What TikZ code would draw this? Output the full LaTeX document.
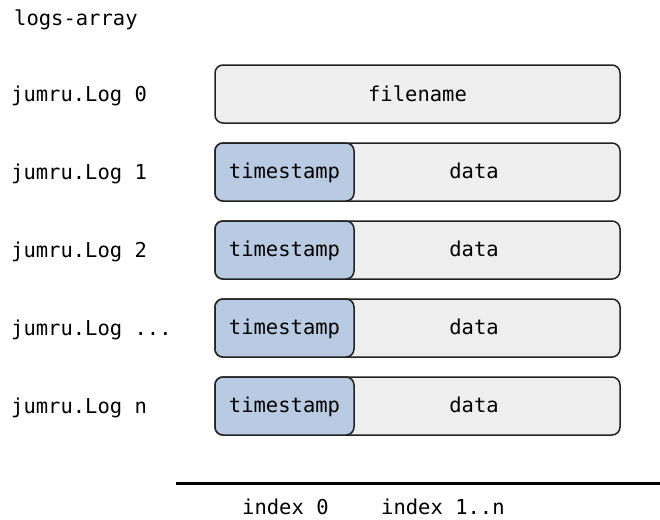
\documentclass[tikz,border=0pt]{standalone}
\usepackage{fontspec}
\setmonofont{DejaVu Sans Mono}
\definecolor{boxgray}{HTML}{EEEEEE}
\definecolor{tsblue}{HTML}{B9CBE3}
\definecolor{edge}{HTML}{222222}
\newcommand\mydotslabel{...}
\begin{document}
\begin{tikzpicture}[x=1pt,y=-1pt,
  txt/.style={font=\ttfamily\fontsize{20.5}{23}\selectfont, inner sep=0pt, text=black, text height=0.72em, text depth=0.22em, yshift=-3.5pt},
  rowbox/.style={draw=edge, fill=boxgray, line width=1.5pt, rounded corners=8pt},
  tsbox/.style={draw=edge, fill=tsblue, line width=1.5pt, rounded corners=8pt}]
\useasboundingbox (0,0) rectangle (660,519);
\fill[white] (0,0) rectangle (660,519);
\node[txt, anchor=west] (title) at (14,20) {logs-array};
% row 0
\draw[rowbox] (215,65) rectangle (620,123);
\node[txt] (fn) at (417.5,95) {filename};
\node[txt, anchor=west] (l0) at (11,95) {jumru.Log 0};
% rows 1..n
\foreach \y/\lab [count=\i] in {143/1, 221/2, 299/\mydotslabel, 377/n} {
  \draw[rowbox] (215,\y) rectangle (620,\y+58);
  \draw[tsbox] (215,\y) rectangle (354,\y+58);
  \node[txt] (ts\i) at (284.5,\y+29) {timestamp};
  \node[txt] (d\i) at (474,\y+29) {data};
  \node[txt, anchor=west] (l\i) at (11,\y+30) {jumru.Log \lab};
}
\draw[line width=3pt] (176,483) -- (660,483);
\node[txt, anchor=west] (i0) at (242,508) {index 0};
\node[txt, anchor=west] (i1) at (381,508) {index 1..n};
\end{tikzpicture}
\end{document}
